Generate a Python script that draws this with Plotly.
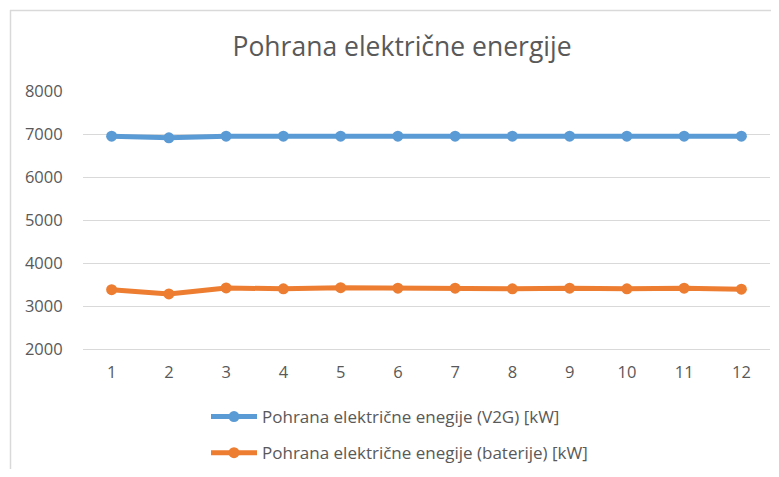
import plotly.graph_objects as go

months = [1, 2, 3, 4, 5, 6, 7, 8, 9, 10, 11, 12]
v2g = [6950, 6910, 6950, 6950, 6950, 6950, 6950, 6950, 6950, 6950, 6950, 6950]
baterije = [3380, 3280, 3420, 3400, 3425, 3415, 3415, 3400, 3415, 3400, 3415, 3390]
y_ticks = [2000, 3000, 4000, 5000, 6000, 7000, 8000]

name_v2g = "Pohrana električne enegije (V2G) [kW]"
name_bat = "Pohrana električne enegije (baterije) [kW]"
title = "Pohrana električne energije"

# page body has an 8px margin; work in screen pixels and convert
OFF = 8
W, H = 763, 461
S_L, S_R, S_T, S_B = 83, 770, 91, 349   # plot area in screen pixels
L = S_L - OFF
T = S_T - OFF
R = W - (S_R - OFF)
B = H - (S_B - OFF)

def px_x(x):  # screen x -> paper
    return (x - S_L) / (S_R - S_L)

def px_y(y):  # screen y -> paper
    return (S_B - y) / (S_B - S_T)

fig = go.Figure()
fig.add_trace(go.Scatter(x=months, y=v2g, name=name_v2g, mode="lines+markers",
                         line=dict(color="#5B9BD5", width=5),
                         marker=dict(color="#5B9BD5", size=11),
                         legendgroup="a"))
fig.add_trace(go.Scatter(x=months, y=baterije, name=name_bat, mode="lines+markers",
                         line=dict(color="#ED7D31", width=5),
                         marker=dict(color="#ED7D31", size=11),
                         legendgroup="b"))

font_fam = "Open Sans, Noto Sans, sans-serif"
fig.update_layout(
    width=W, height=H,
    margin=dict(l=L, r=R, t=T, b=B, autoexpand=False),
    paper_bgcolor="white", plot_bgcolor="white",
    title=dict(text=title, x=(402 - OFF) / W, xanchor="center",
               y=1 - (47 - OFF) / H, yanchor="middle",
               font=dict(family=font_fam, size=26.5, color="#595959")),
    xaxis=dict(range=[0.5, 12.5], tickmode="array", tickvals=months,
               ticktext=[str(m) for m in months],
               showgrid=False, zeroline=False,
               showline=True, linecolor="#D9D9D9", linewidth=1,
               ticks="outside", ticklen=8, tickcolor="rgba(0,0,0,0)",
               tickfont=dict(family=font_fam, size=16.5, color="#595959"),
               automargin=False, fixedrange=True),
    yaxis=dict(range=[2000, 8000], tickmode="array", tickvals=y_ticks,
               ticktext=[str(v) for v in y_ticks],
               showgrid=True, gridcolor="#D9D9D9", gridwidth=1,
               zeroline=False, showline=False,
               ticks="outside", ticklen=16, tickcolor="rgba(0,0,0,0)",
               tickfont=dict(family=font_fam, size=16.5, color="#595959"),
               automargin=False),
    legend=dict(orientation="v", x=px_x(206), xanchor="left",
                y=px_y(399), yanchor="top",
                font=dict(family=font_fam, size=17, color="#595959"),
                itemwidth=46, tracegroupgap=11,
                bgcolor="rgba(0,0,0,0)"),
    showlegend=True,
    shapes=[
        dict(type="line", xref="paper", yref="paper",
             x0=px_x(10.5), x1=px_x(10.5), y0=px_y(10), y1=px_y(480),
             line=dict(color="#D9D9D9", width=1.5)),
        dict(type="line", xref="paper", yref="paper",
             x0=px_x(10), x1=px_x(790), y0=px_y(10.5), y1=px_y(10.5),
             line=dict(color="#D9D9D9", width=1.5)),
    ],
)

fig.write_html("out.html")
